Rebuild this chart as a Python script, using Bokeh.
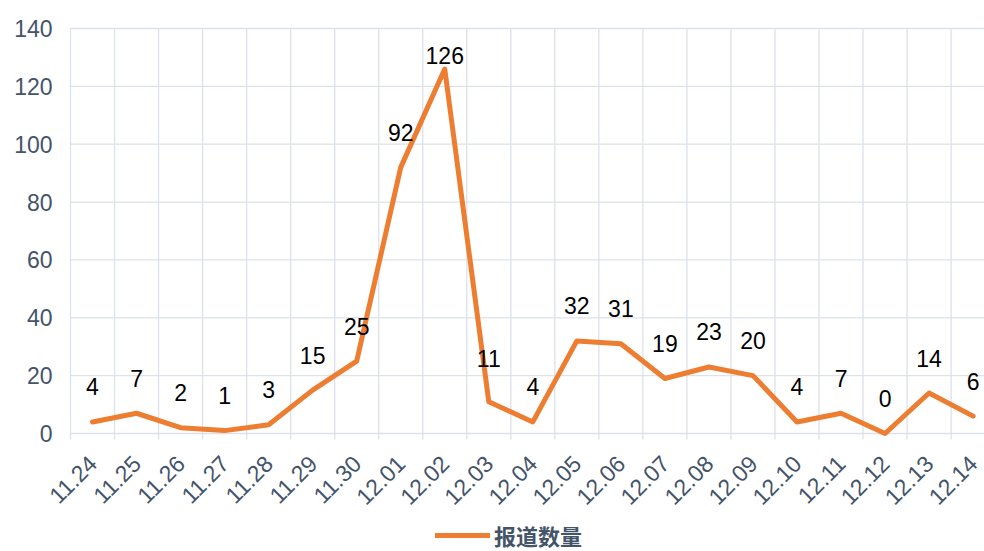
import math
from bokeh.plotting import figure
from bokeh.models import (Range1d, ColumnDataSource, Legend, LegendItem)
from bokeh.embed import file_html
from bokeh.resources import INLINE
from bokeh.core.properties import value

# ---- data ----
dates = ["11.24", "11.25", "11.26", "11.27", "11.28", "11.29", "11.30",
         "12.01", "12.02", "12.03", "12.04", "12.05", "12.06", "12.07",
         "12.08", "12.09", "12.10", "12.11", "12.12", "12.13", "12.14"]
counts = [4, 7, 2, 1, 3, 15, 25, 92, 126, 11, 4, 32, 31, 19, 23, 20, 4, 7, 0, 14, 6]
y_ticks = [0, 20, 40, 60, 80, 100, 120, 140]
series_name = "报道数量"

# ---- styles / layout ----
LINE_COLOR = "#ED7D31"
GRID_COLOR = "#DCE1EA"
TEXT_COLOR = "#44546A"
FONT = "Liberation Sans"

W, H = 984, 551
LEFT, TOP = 70, 28          # where the value band starts
PLOT_PX = 405               # pixel height of the 0..140 value band
CAT_PX = 44.03              # pixel width of one category
BELOW_PX = H - TOP - PLOT_PX

n = len(dates)
xs = [i + 0.5 for i in range(n)]
y_max = max(y_ticks)
px_per_unit = PLOT_PX / y_max
y_lo = -BELOW_PX / px_per_unit
y_hi = y_max + TOP / px_per_unit
x_start = -LEFT / CAT_PX
x_end = (W - LEFT) / CAT_PX

# label offsets (screen px, upward): closer for the peak, higher when the line passes through
dys = []
for i, v in enumerate(counts):
    if v == max(counts):
        dys.append(-14)
    elif i > 0 and counts[i - 1] - v > 50:
        dys.append(-43)
    else:
        dys.append(-35)

source = ColumnDataSource(dict(x=xs, y=counts, label=[str(v) for v in counts], dy=dys))
cat_source = ColumnDataSource(dict(x=xs, y=[0] * n, label=dates))
bounds = [b for b in range(n) if b <= x_end]
vgrid = ColumnDataSource(dict(x=bounds, y0=[-6 / px_per_unit] * len(bounds), y1=[y_max] * len(bounds)))
hgrid = ColumnDataSource(dict(y=y_ticks, x0=[0] * len(y_ticks), x1=[x_end] * len(y_ticks),
                              label=[str(t) for t in y_ticks]))

p = figure(width=W, height=H,
           x_range=Range1d(x_start, x_end), y_range=Range1d(y_lo, y_hi),
           output_backend="svg", toolbar_location=None,
           min_border_left=0, min_border_right=0, min_border_top=0, min_border_bottom=0)
p.outline_line_color = None
p.background_fill_color = "white"
p.border_fill_color = "white"
p.xaxis.visible = False
p.yaxis.visible = False
p.grid.visible = False

# grid lines: horizontal at value ticks, vertical at category boundaries (reaching below zero as ticks)
p.segment(x0="x0", y0="y", x1="x1", y1="y", source=hgrid, line_color=GRID_COLOR, line_width=1.3)
p.segment(x0="x", y0="y0", x1="x", y1="y1", source=vgrid, line_color=GRID_COLOR, line_width=1.3)

# value tick labels
p.text(x=0, y="y", text="label", source=hgrid, x_offset=-18,
       text_align="right", text_baseline="middle",
       text_font=value(FONT), text_font_size="23px", text_color=TEXT_COLOR)

# category labels, rotated 45 degrees
p.text("x", "y", text="label", source=cat_source, angle=math.pi / 4,
       x_offset=0, y_offset=26, text_align="right", text_baseline="middle",
       text_font=value(FONT), text_font_size="23px", text_color=TEXT_COLOR)

r = p.line("x", "y", source=source, line_color=LINE_COLOR, line_width=5,
           line_cap="round", line_join="round")

p.text("x", "y", text="label", source=source, y_offset="dy",
       text_align="center", text_baseline="middle",
       text_font=value(FONT), text_font_size="23px", text_color="black")

legend = Legend(items=[LegendItem(label=series_name, renderers=[r])],
                orientation="horizontal", location=(435, 0),
                border_line_color=None, background_fill_alpha=0,
                label_text_font="Noto Sans CJK SC", label_text_font_size="22px",
                label_text_font_style="bold", label_text_color=TEXT_COLOR,
                label_text_line_height=1.0,
                glyph_width=55, glyph_height=22, label_standoff=4,
                label_height=22, padding=0, margin=0)
p.add_layout(legend, "center")

open("out.html", "w").write(file_html(p, INLINE))
